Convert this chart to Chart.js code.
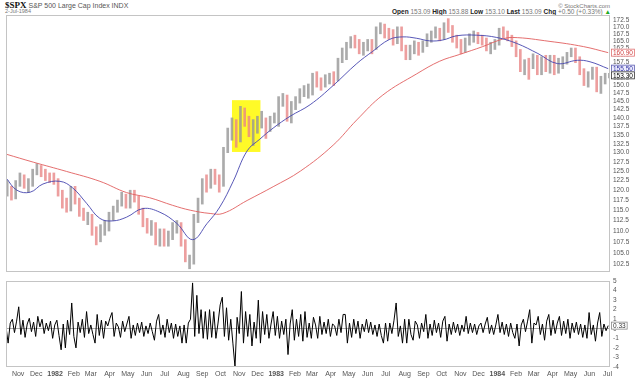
<!DOCTYPE html>
<html><head><meta charset="utf-8">
<script src="https://cdn.jsdelivr.net/npm/chart.js@4.4.0/dist/chart.umd.min.js"></script>
<style>
html,body{margin:0;padding:0;background:#fff;width:640px;height:380px;overflow:hidden;font-family:'Liberation Sans',Arial,sans-serif;}
canvas{position:absolute;left:0;}
#c1{top:0;}
#c2{top:268px;}
.t{position:absolute;white-space:nowrap;color:#555;line-height:1;}
</style></head><body>
<div class="t" style="left:5px;top:1px;font-size:7px;"><b style="font-family:'Liberation Serif',serif;font-size:9px;color:#111">$SPX</b> S&amp;P 500 Large Cap Index INDX</div>
<div class="t" style="left:5px;top:9px;font-size:5.5px;color:#777">2-Jul-1984</div>
<div class="t" style="right:30px;top:3px;font-size:6px;color:#777">© StockCharts.com</div>
<div class="t" style="right:29px;top:9px;font-size:6.5px;color:#777"><b style="color:#222">Open</b> 153.09 <b style="color:#222">High</b> 153.88 <b style="color:#222">Low</b> 153.10 <b style="color:#222">Last</b> 153.09 <b style="color:#222">Chg</b> +0.50 (+0.33%) <span style="color:#2a2">▲</span></div>
<canvas id="c1" width="640" height="280"></canvas>
<canvas id="c2" width="640" height="112"></canvas>
<script>
const FONT = "'Liberation Sans', Arial, sans-serif";

// ---- DATA ----
const firstWeekEnd = '1981-10-16';
const weekHigh = [
 122.5,121,122.5,124.5,124,123,125.5,127,126.5,125.5,124.5,124.5,
 123,120,118,121, 121,118,115.5,114.5, 114,111,111.5,112.5, 114.5,116,117.5,119.5,119, 120,120,118.5,115.5, 113,112.5,112,110.5, 110.5,110,112,112.5,112, 108,104.5,114,118, 123,124,125.5,125.5, 124,131.5,137,140,139.5, 143.5,143,140.5,139.5, 140.5,142,140,140.5,141.5,
 146.5,147.5,147,145, 146.5,149,150,150.5, 154,154.5,152.5,153.5, 154,154.5,159,162.5,164.5, 166.5,167,165.5,164.5, 165.5,165.5,170,171.5, 171,169.5,169,170,170, 163.5,163.5,165,164.5, 165,167.5,168.5,170,169.5, 171.5,173,170.5,167, 165.5,166,167.5,168.5, 168,167,166,164.5,165.5,
 169.5,170,168.5,167, 165,162,158.5,159, 160.5,160,159.5,160,160, 160,159,159.5,161, 162.5,162.5,159.5,155.5, 154.5,156,156,153,154, 154];
const weekLow = [
 118.5,117.5,117.8,121,120.5,119.5,121,124,123.5,122.5,122,121.5,
 118.5,115.5,114.5,114.8, 116.5,113.5,112.5,111.5, 109,106.8,107.5,109, 110,112.5,114.5,116,115.5, 115.5,117,114,111, 109.5,109,106.8,106.5, 106.5,106.5,108,109.5,106.5, 103,101.5,102.5,112, 116.5,119.5,120.5,121.5, 119.5,121,130,133.5,131.5, 133,137.5,134.5,132, 135.5,137,134,136,138.5,
 137.5,143.5,139,138.5, 142.5,144.5,146.5,146, 147,149.5,148.5,149.5, 150.5,150,151.5,157.5,158.5, 162.5,162.5,160.5,160, 161.5,160.5,162,167.5, 166,165.5,163.5,164,161.5, 158.5,158.5,160.5,160, 161,163,164.5,166,165, 165.5,168,164.5,162.5, 160.5,161,163.5,164.5, 164,163.5,161.5,160.5,162,
 163.5,166,165,163, 159.5,154.5,153.5,152, 155.5,153.5,153.5,154.5,154, 153.5,154,155.5,157, 159.5,157.5,153.5,150, 149.5,152,148,147.5,150.5, 152.5];
const weekClose = [
 119.7,118.6,121.9,122.7,121.7,121.7,125.1,126.3,124.9,124.0,123.8,122.6,
 119.6,116.3,115.4,120.4, 117.3,114.4,113.2,113.2, 109.9,108.6,110.6,110.7, 113.8,115.5,116.8,118.6,116.4, 119.5,118.0,114.9,111.9, 111.2,111.5,107.3,109.1, 107.7,108.8,111.1,111.5,107.1, 103.7,103.9,113.0,117.1, 122.7,122.0,124.9,123.3, 122.0,131.1,136.7,138.8,133.7, 142.2,139.5,137.0,138.4, 138.7,139.6,137.5,139.7,140.6,
 145.2,146.7,140.0,144.5, 146.1,148.5,148.8,149.6, 153.7,150.8,149.9,152.7, 153.0,151.8,158.8,161.8,164.4, 166.1,164.9,162.1,163.4, 164.8,162.7,169.1,170.4, 168.6,167.1,165.0,169.3,162.6, 161.7,162.2,163.9,162.1, 164.2,167.0,168.0,169.5,166.1, 170.8,169.6,165.9,163.4, 162.4,165.3,166.1,166.8, 165.4,165.1,162.4,163.2,164.9,
 169.3,167.0,166.2,164.2, 160.9,155.9,157.6,157.5, 159.2,154.4,158.9,155.4,159.2, 155.0,157.3,158.0,160.4, 161.9,158.5,154.3,151.2, 153.2,155.2,149.0,152.1,153.2, 153.3];

const ma50Dates = ['1981-10-12','1981-10-30','1981-11-21','1981-12-12','1982-01-09','1982-01-30','1982-02-22','1982-03-16','1982-04-06','1982-04-29','1982-05-26','1982-06-23','1982-07-21','1982-08-16','1982-09-09','1982-09-30','1982-10-22','1982-11-14','1982-12-05','1982-12-27','1983-01-24','1983-02-26','1983-04-05','1983-05-14','1983-06-09','1983-07-07','1983-07-29','1983-08-21','1983-09-11','1983-10-03','1983-10-26','1983-11-28','1983-12-31','1984-02-02','1984-03-08','1984-04-09','1984-05-12','1984-06-02','1984-07-02'];
const ma50 = [123.2,120.0,119.5,121.6,122.3,120.6,116.7,113.0,112.4,113.3,115.4,114.5,111.8,108.0,111.8,115.8,122.3,130.5,133.8,137.0,140.5,144.0,150.0,157.2,161.3,165.5,166.4,165.9,165.0,165.3,166.8,167.0,166.2,164.1,160.6,157.2,158.3,157.8,155.5];

const ma200Dates = ['1981-10-12','1981-11-26','1982-01-20','1982-03-16','1982-04-29','1982-06-06','1982-07-14','1982-08-12','1982-09-14','1982-10-05','1982-11-14','1982-12-27','1983-02-10','1983-04-05','1983-05-14','1983-06-26','1983-08-21','1983-09-28','1983-10-31','1983-12-08','1984-01-05','1984-01-26','1984-03-28','1984-05-22','1984-07-02'];
const ma200 = [129.6,127.4,124.9,122.3,119.4,118.1,116.2,115.0,114.2,114.2,117.4,120.9,125.0,132.1,139.4,147.0,153.8,158.0,160.3,163.0,165.3,166.2,164.8,163.0,160.9];

const lastClose = 153.3;
const highlight = {from:'1982-10-20', to:'1982-12-06', low:130.2, high:145.4};

const priceTicks = [102.5,105,107.5,110,112.5,115,117.5,120,122.5,125,127.5,130,132.5,135,137.5,140,142.5,145,147.5,150,152.5,155,157.5,160,162.5,165,167.5,170,172.5];
const monthStarts = ['1981-11-01','1981-12-01','1982-01-01','1982-02-01','1982-03-01','1982-04-01','1982-05-01','1982-06-01','1982-07-01','1982-08-01','1982-09-01','1982-10-01','1982-11-01','1982-12-01','1983-01-01','1983-02-01','1983-03-01','1983-04-01','1983-05-01','1983-06-01','1983-07-01','1983-08-01','1983-09-01','1983-10-01','1983-11-01','1983-12-01','1984-01-01','1984-02-01','1984-03-01','1984-04-01','1984-05-01','1984-06-01','1984-07-01'];
const monthLabels = ['Nov','Dec','1982','Feb','Mar','Apr','May','Jun','Jul','Aug','Sep','Oct','Nov','Dec','1983','Feb','Mar','Apr','May','Jun','Jul','Aug','Sep','Oct','Nov','Dec','1984','Feb','Mar','Apr','May','Jun','Jul'];

const chgStart = '1981-10-12';
const chgStepDays = 3.5;
const chg = [
 0.2,-1.5,0.6,1.0,-0.4,0.8,2.3,-0.6,0.9,-0.9,
 0.5,1.1,-0.3,0.7,-0.8,1.3,0.2,1.0,-0.5,0.6,
 -0.2,0.8,-1.0,0.4,0.9,-0.7,-2.2,0.5,-2.0,0.9,
 -0.6,2.7,-0.8,-2.0,0.7,-0.4,1.0,-0.9,1.8,-0.5,
 0.4,-0.6,-1.5,1.5,-0.7,0.9,-1.0,0.8,0.3,1.1,
 1.7,-0.8,0.6,0.2,-0.9,0.8,-0.3,0.5,1.3,-1.0,
 0.4,-0.7,0.6,-0.4,0.7,-0.8,0.3,-0.5,0.6,-0.3,
 -1.2,0.8,1.5,-0.6,0.4,-0.9,1.0,-0.4,0.6,-1.0,
 0.5,-0.8,0.3,-1.5,0.4,-1.5,0.6,1.0,4.8,-0.8,
 3.5,-0.5,2.0,-1.0,1.8,-1.1,2.0,-0.9,1.8,-1.0,
 0.6,2.5,3.3,-0.8,2.2,-1.2,1.0,-1.5,-4.0,1.2,
 -0.5,3.9,-1.5,1.8,-0.8,1.5,-1.8,0.7,-1.0,3.0,
 -1.5,1.8,-0.6,1.5,-1.0,0.5,1.8,-0.7,1.3,-1.0,
 0.8,-0.6,1.0,-2.7,0.5,2.0,-1.2,1.0,-0.8,1.5,
 -1.3,1.8,-0.9,0.6,-1.0,1.2,0.4,-1.0,1.3,-0.6,
 0.7,-0.5,1.0,-0.8,0.5,0.3,-0.7,1.0,-0.4,1.5,
 1.5,-1.5,0.6,-0.9,1.0,-0.5,0.8,-1.0,0.5,-0.3,
 1.0,-0.4,0.7,-0.6,0.4,-0.8,0.5,-0.7,-1.5,0.6,
 -1.3,0.6,-0.5,0.9,2.7,-0.8,0.3,-1.5,1.0,-1.5,
 1.0,-0.6,-1.2,0.8,0.4,-1.0,0.6,-0.3,1.5,-1.0,
 0.5,-0.7,0.9,-0.4,0.6,-0.9,0.8,1.3,-1.3,0.5,
 -0.6,0.7,-0.4,0.5,-0.7,0.4,-0.3,1.3,-0.5,0.6,
 -0.4,0.5,-0.6,0.3,0.6,-0.4,0.5,1.2,-0.5,0.4,
 -0.6,0.4,1.5,-0.4,0.7,-0.6,0.5,-0.8,0.6,-0.4,
 -1.0,0.5,-1.8,0.4,1.0,-0.3,0.8,2.0,-1.5,0.6,
 0.4,1.3,-0.6,0.5,-1.2,0.8,1.5,-0.7,0.9,-0.5,
 0.6,1.3,-0.7,0.8,-0.5,1.0,-1.0,0.6,-0.4,0.7,
 -0.6,0.5,-0.9,0.4,-1.0,1.7,-0.6,0.4,-1.3,0.6,
 1.7,-0.8,0.5,-0.2,0.33];
const oscTicks = [5,4,3,2,1,0,-1,-2,-3,-4];

// ---- helpers ----
const EPOCH = Date.UTC(1982,0,1);
const day = s => (Date.parse(s + 'T00:00:00Z') - EPOCH) / 86400000;
const xMin = day('1981-10-12');
const xMax = day('1984-07-05');
const yMin = 100.8, yMax = 174.35;
const monthDays = monthStarts.map(day);
const wk0 = day(firstWeekEnd);

const barData = weekHigh.map((h,i)=>({x: wk0 + 7*i - 2, y:[weekLow[i], h]}));
const barColors = weekClose.map((c,i)=> (i>0 && c < weekClose[i-1]) ? 'rgba(232,135,135,0.8)' : 'rgba(150,150,150,0.8)');
const ma50Data = ma50Dates.map((d,i)=>({x:day(d), y:ma50[i]}));
const ma200Data = ma200Dates.map((d,i)=>({x:day(d), y:ma200[i]}));
const chgData = chg.map((v,i)=>({x: day(chgStart) + i*chgStepDays, y:v}));

function xAxis(pad, h){
  return {
    type:'linear', min:xMin, max:xMax, offset:false,
    grid:{display:false, drawTicks:false}, border:{display:false},
    afterBuildTicks: s => { s.ticks = monthDays.map(v=>({value:v})); },
    afterFit: s => { s.height = h; },
    ticks:{autoSkip:false, maxRotation:0, minRotation:0, padding:pad, color:'#555',
      font: c => ({family:FONT, size:7, weight: /^\d{4}$/.test(monthLabels[c.index]) ? 'bold' : 'normal'}),
      callback:(v,i)=>monthLabels[i]}
  };
}

function tag(ctx, y, text, stroke, fill, color){
  ctx.save();
  ctx.font = '6.5px ' + FONT;
  const w = ctx.measureText(text).width + 4;
  ctx.fillStyle = fill;
  ctx.fillRect(611, y-4, w, 8);
  ctx.strokeStyle = stroke; ctx.lineWidth = 0.8;
  ctx.strokeRect(611.5, y-3.5, w-1, 7);
  ctx.fillStyle = color; ctx.textBaseline = 'middle';
  ctx.fillText(text, 613, y+0.5);
  ctx.restore();
}

const framePlugin = {
  id:'frame',
  beforeDatasetsDraw(chart){
    const {ctx} = chart;
    if (chart.canvas.id === 'c1') {
      const x = chart.scales.x, y = chart.scales.y;
      const x1 = x.getPixelForValue(day(highlight.from)), x2 = x.getPixelForValue(day(highlight.to));
      const y1 = y.getPixelForValue(highlight.high), y2 = y.getPixelForValue(highlight.low);
      ctx.save(); ctx.fillStyle = 'rgb(255,250,40)'; ctx.fillRect(x1, y1, x2-x1, y2-y1); ctx.restore();
    }
  },
  afterDraw(chart){
    const {ctx, chartArea:a} = chart;
    ctx.save(); ctx.strokeStyle = '#c4c4c4'; ctx.lineWidth = 1;
    ctx.strokeRect(Math.round(a.left)+0.5, Math.round(a.top)+0.5, Math.round(a.right-a.left)-1, Math.round(a.bottom-a.top)-1);
    ctx.restore();
    const y = chart.scales.y;
    if (chart.canvas.id === 'c1') {
      tag(ctx, y.getPixelForValue(ma200[ma200.length-1]), ma200[ma200.length-1].toFixed(2), '#e07070', '#fff', '#d04040');
      tag(ctx, y.getPixelForValue(ma50[ma50.length-1]), ma50[ma50.length-1].toFixed(2), '#6060b0', '#eef', '#3030a0');
      tag(ctx, y.getPixelForValue(lastClose), lastClose.toFixed(2), '#333', '#fff', '#000');
    } else {
      const v = chg[chg.length-1];
      tag(ctx, y.getPixelForValue(v), v.toFixed(2), '#888', '#fff', '#333');
    }
  }
};

const common = {responsive:false, animation:false, devicePixelRatio:1, events:[],
  plugins:{legend:{display:false}, tooltip:{enabled:false}}};

new Chart(document.getElementById('c1'), {
  type:'bar',
  data:{datasets:[
    {type:'line', data:ma50Data, borderColor:'rgba(70,70,175,0.9)', borderWidth:1, pointRadius:0, tension:0.4, order:1},
    {type:'line', data:ma200Data, borderColor:'rgba(225,95,95,0.9)', borderWidth:1, pointRadius:0, tension:0.4, order:2},
    {type:'bar', data:barData, backgroundColor:barColors, borderWidth:0, barThickness:2, order:3}
  ]},
  options:Object.assign({}, common, {
    layout:{padding:{top:15, left:6, right:0, bottom:8}},
    scales:{
      x: xAxis(-11, 0),
      y: {type:'logarithmic', position:'right', min:yMin, max:yMax,
        grid:{display:false, drawTicks:false}, border:{display:false},
        afterBuildTicks: s => { s.ticks = priceTicks.map(v=>({value:v})); },
        afterFit: s => { s.width = 30; },
        ticks:{autoSkip:false, padding:3, color:'#555', font:{family:FONT, size:6.5}, callback: v => Number(v).toFixed(1)}}
    }
  }),
  plugins:[framePlugin]
});

new Chart(document.getElementById('c2'), {
  type:'line',
  data:{datasets:[{data:chgData, borderColor:'#000', borderWidth:1, pointRadius:0, tension:0}]},
  options:Object.assign({}, common, {
    layout:{padding:{top:13, left:6, right:0, bottom:0}},
    scales:{
      x: xAxis(3, 13),
      y: {type:'linear', position:'right', min:-4, max:5,
        grid:{drawTicks:false, color: c => (c.tick && c.tick.value === 0) ? '#aaa' : 'rgba(0,0,0,0)'}, border:{display:false},
        afterBuildTicks: s => { s.ticks = oscTicks.map(v=>({value:v})); },
        afterFit: s => { s.width = 30; },
        ticks:{autoSkip:false, padding:3, color:'#555', font:{family:FONT, size:6.5}, callback: v => String(v)}}
    }
  }),
  plugins:[framePlugin]
});
</script>
</body></html>
